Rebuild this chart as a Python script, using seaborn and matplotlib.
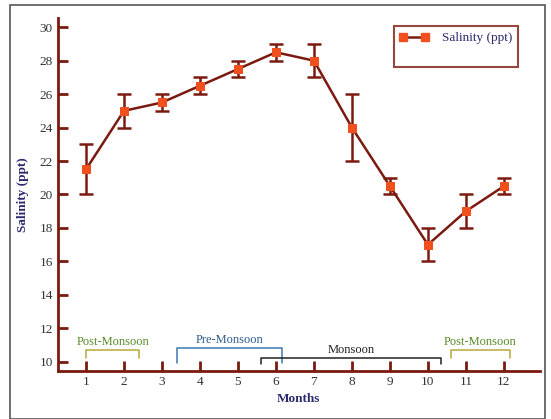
import matplotlib
matplotlib.use('Agg')
import matplotlib.pyplot as plt
import seaborn as sns
import pandas as pd
from matplotlib.patches import Rectangle
from matplotlib.lines import Line2D

months = [1, 2, 3, 4, 5, 6, 7, 8, 9, 10, 11, 12]
salinity = [21.5, 25, 25.5, 26.5, 27.5, 28.5, 28, 24, 20.5, 17, 19, 20.5]
err = [1.5, 1, 0.5, 0.5, 0.5, 0.5, 1, 2, 0.5, 1, 1, 0.5]
yticks = [10, 12, 14, 16, 18, 20, 22, 24, 26, 28, 30]

# seasons: label, start, end, bracket height, drop, text color, line color
seasons = [
    ('Post-Monsoon', 1.0, 2.4, 10.7, 0.5, '#5a8a2a', '#b8a838'),
    ('Pre-Monsoon', 3.4, 6.15, 10.8, 0.9, '#2e5e8e', '#3a78b0'),
    ('Monsoon', 5.6, 10.35, 10.25, 0.4, '#222222', '#222222'),
    ('Post-Monsoon', 10.6, 12.15, 10.7, 0.5, '#5a8a2a', '#b8a838'),
]

dark = '#7a1a10'
orange = '#f0501e'
navy = '#2b2a6e'

sns.set_style('ticks')
plt.rcParams['font.family'] = ['Liberation Serif', 'DejaVu Serif']

df = pd.DataFrame({'Month': months, 'Salinity (ppt)': salinity})

fig = plt.figure(figsize=(5.51, 4.19), dpi=100)
fig.patches.append(Rectangle((10 / 551, 0), 535 / 551, 1 - 5 / 419, transform=fig.transFigure,
                             fill=False, edgecolor='#555555', linewidth=1.2))
ax = fig.add_axes([0.105, 0.115, 0.875, 0.842])

ax.errorbar(months, salinity, yerr=err, fmt='none', ecolor=dark, elinewidth=1.8,
            capsize=5, capthick=1.8, zorder=2)
sns.lineplot(data=df, x='Month', y='Salinity (ppt)', ax=ax, color=dark, linewidth=1.8,
             marker='s', markersize=6, markerfacecolor=orange, markeredgecolor=orange,
             legend=False, zorder=3)

for name, x0, x1, h, d, tc, lc in seasons:
    ax.plot([x0, x0, x1, x1], [h - d, h, h, h - d], color=lc, linewidth=1.1, clip_on=False)
    ax.text((x0 + x1) / 2, h + 0.12, name, ha='center', va='bottom', color=tc, fontsize=9)

ax.set_xlim(0.26, 12.95)
ax.set_ylim(9.46, 30.55)
ax.set_xticks(months)
ax.set_yticks(yticks)
sns.despine(ax=ax)
for s in ['left', 'bottom']:
    ax.spines[s].set_color(dark)
    ax.spines[s].set_linewidth(2)
ax.tick_params(axis='both', direction='in', length=7, width=2, color=dark,
               labelsize=9.5, labelcolor='#333333')
ax.set_xlabel('Months', fontsize=9.5, fontweight='bold', color=navy)
ax.set_ylabel('Salinity (ppt)', fontsize=9.5, fontweight='bold', color=navy, labelpad=8)

handle = Line2D([0], [0], color=dark, linewidth=1.8, marker='s', markersize=6,
                markerfacecolor=orange, markeredgecolor=orange)
blank = Line2D([0], [0], color='none')
leg = ax.legend([handle, blank], ['Salinity (ppt)', ' '], loc='upper right',
                bbox_to_anchor=(0.96, 0.985), frameon=True, fancybox=False,
                fontsize=9.5, handlelength=2.2, numpoints=2, borderpad=0.45,
                labelspacing=0.35, handletextpad=1.0, borderaxespad=0.2)
leg.get_frame().set_edgecolor(dark)
leg.get_frame().set_linewidth(1.5)
for t in leg.get_texts():
    t.set_color(navy)

fig.savefig('out.png', dpi=100)
